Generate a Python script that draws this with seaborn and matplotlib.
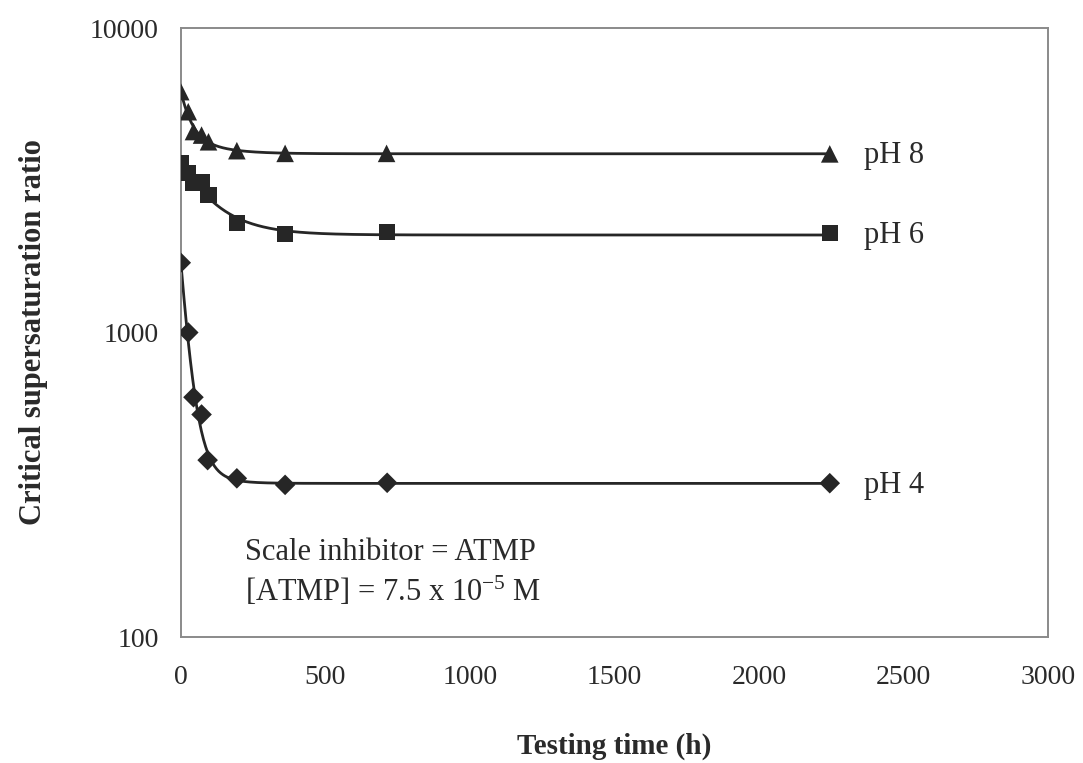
import numpy as np
import pandas as pd
import matplotlib
matplotlib.use("Agg")
import matplotlib.pyplot as plt
import seaborn as sns

# Testing time (h) and critical supersaturation ratio for each pH
time_ph8 = [0, 26, 44, 72, 96, 194, 361, 712, 2245]
ratio_ph8 = [6180, 5310, 4570, 4450, 4230, 3955, 3875, 3875, 3860]

time_ph6 = [0, 26, 44, 72, 96, 194, 361, 712, 2245]
ratio_ph6 = [3590, 3330, 3090, 3125, 2830, 2285, 2100, 2140, 2120]

time_ph4 = [0, 26, 44, 72, 93, 194, 361, 714, 2245]
ratio_ph4 = [1695, 1000, 613, 538, 381, 332, 316, 321, 320]

series_names = ["pH 8", "pH 6", "pH 4"]
x_ticks = [0, 500, 1000, 1500, 2000, 2500, 3000]
y_ticks = [100, 1000, 10000]

sns.set_theme(style="white")
plt.rcParams["font.family"] = ["Liberation Serif", "DejaVu Serif"]
plt.rcParams["mathtext.fontset"] = "custom"
plt.rcParams["mathtext.rm"] = "Liberation Serif"
plt.rcParams["mathtext.it"] = "Liberation Serif:italic"

frames = []
for name, t, r in zip(series_names,
                      [time_ph8, time_ph6, time_ph4],
                      [ratio_ph8, ratio_ph6, ratio_ph4]):
    frames.append(pd.DataFrame({"time": t, "ratio": r, "series": name}))
data = pd.concat(frames, ignore_index=True)


def decay_fit(t, y):
    """Least-squares fit of y = c + b1*exp(-k1 t) + b2*exp(-k2 t)."""
    t = np.asarray(t, float)
    y = np.asarray(y, float)
    w = 1.0 / y
    ks = np.logspace(-3, 0, 70)
    best = None
    for i, k1 in enumerate(ks):
        for k2 in ks[i + 1:]:
            A = np.column_stack([np.ones_like(t), np.exp(-k1 * t), np.exp(-k2 * t)])
            coef, *_ = np.linalg.lstsq(A * w[:, None], y * w, rcond=None)
            if coef[1] < 0 or coef[2] < 0:
                continue
            err = np.sum(((A @ coef - y) * w) ** 2)
            if best is None or err < best[0]:
                best = (err, k1, k2, coef)
    _, k1, k2, coef = best
    tt = np.linspace(0, t.max(), 600)
    return tt, coef[0] + coef[1] * np.exp(-k1 * tt) + coef[2] * np.exp(-k2 * tt)


curves = []
for name in series_names:
    sub = data[data["series"] == name]
    tt, yy = decay_fit(sub["time"], sub["ratio"])
    curves.append(pd.DataFrame({"time": tt, "ratio": yy, "series": name}))
curve_df = pd.concat(curves, ignore_index=True)

fig = plt.figure(figsize=(10.83, 7.63), dpi=100)
ax = fig.add_axes([0.1669, 0.1651, 0.9677 - 0.1669, 0.9633 - 0.1651])

ink = "#262626"
txt = "#2a2a2a"
sns.lineplot(data=curve_df, x="time", y="ratio", units="series", estimator=None,
             color=ink, linewidth=2.0, ax=ax, legend=False)
sns.scatterplot(data=data, x="time", y="ratio", style="series", size="series",
                markers={"pH 8": "^", "pH 6": "s", "pH 4": "D"},
                sizes={"pH 8": 160, "pH 6": 135, "pH 4": 110},
                color=ink, edgecolor=ink, linewidth=0, ax=ax, legend=False,
                zorder=3)

ax.set_yscale("log")
ax.set_xlim(0, 3000)
ax.set_ylim(100, 10000)
ax.set_xticks(x_ticks)
ax.set_xticklabels([str(v) for v in x_ticks])
ax.set_yticks(y_ticks)
ax.set_yticklabels([str(v) for v in y_ticks])
ax.yaxis.set_minor_locator(matplotlib.ticker.NullLocator())

for sp in ax.spines.values():
    sp.set_color("#8a8a8a")
    sp.set_linewidth(1.4)
    sp.set_visible(True)
ax.tick_params(axis="both", which="major", direction="out", length=7, width=1.3,
               color="#8a8a8a", labelsize=20, labelcolor=txt)
ax.tick_params(axis="x", pad=13)
ax.tick_params(axis="y", pad=9)

ax.set_xlabel("Testing time (h)", fontsize=21, fontweight="bold", color=txt,
              labelpad=31)
ax.set_ylabel("Critical supersaturation ratio", fontsize=22, fontweight="bold",
              color=txt, labelpad=30)

# series labels at the right end of each curve
for name, r in zip(series_names, [ratio_ph8, ratio_ph6, ratio_ph4]):
    ax.text(2365, r[-1] * 0.985, name, fontsize=22, color=txt, va="center",
            ha="left")

ax.text(222, 189, "Scale inhibitor = ATMP", fontsize=22, color=txt,
        va="center", ha="left")
ax.text(222, 141, r"[ATMP] = 7.5 x 10$^{\mathrm{-5}}$ M", fontsize=22,
        color=txt, va="center", ha="left")

fig.savefig("out.png", dpi=100, facecolor="white")
